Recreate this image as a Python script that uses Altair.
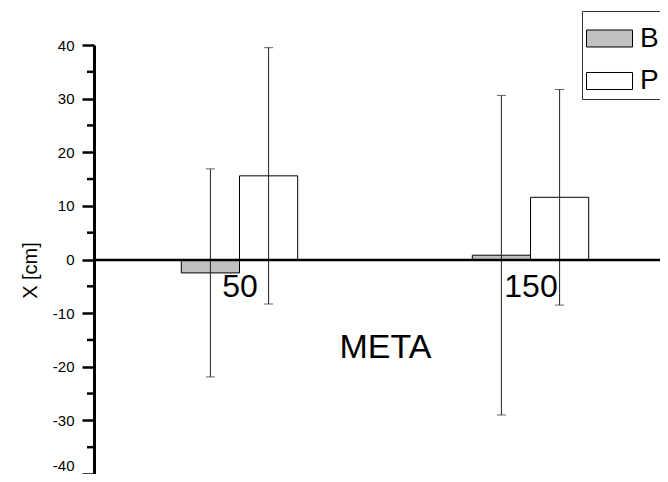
import altair as alt
import pandas as pd

# ---- data ----
categories = [50, 150]
series = ["B", "P"]
mean_B = [-2.5, 0.8]
err_B = [19.4, 29.8]
mean_P = [15.6, 11.6]
err_P = [23.9, 20.1]
y_ticks = [-40, -30, -20, -10, 0, 10, 20, 30, 40]
y_minor = [-35, -25, -15, -5, 5, 15, 25, 35]
fill_colors = ["#c0c0c0", "#ffffff"]

BAR_W = 20  # bar width in x units
rows = []
for s, means, errs, off in [("B", mean_B, err_B, -1), ("P", mean_P, err_P, 0)]:
    for c, m, e in zip(categories, means, errs):
        x0 = c + off * BAR_W
        rows.append(dict(series=s, cat=c, x0=x0, x1=x0 + BAR_W, xc=x0 + BAR_W / 2,
                         mean=m, lo=m - e, hi=m + e))
df = pd.DataFrame(rows)
minor_df = pd.DataFrame({"v": y_minor})

FONT = "Liberation Sans"
W, H = 566, 429
xscale = alt.Scale(domain=[0, W / 2.91], nice=False, zero=False)
yscale = alt.Scale(domain=[-40, 40], nice=False, zero=False)

x_axis = alt.Axis(values=categories, offset=-H / 2, ticks=False, tickSize=0,
                  domainColor="black", domainWidth=2.5, grid=False,
                  labelFontSize=32, labelPadding=12, labelFont=FONT, labelColor="black",
                  labelFlush=False, labelOverlap=False,
                  title="META", titleFontSize=34, titleFont=FONT, titleFontWeight="normal",
                  titleColor="black", titleX=291, titleY=98, titleBaseline="alphabetic",
                  titleAlign="center", zindex=1)
y_axis = alt.Axis(values=y_ticks, tickSize=12, tickWidth=2.5, tickColor="black",
                  domainColor="black", domainWidth=3, grid=False,
                  labelExpr="'' + datum.value",
                  labelFontSize=15, labelPadding=8, labelFont=FONT, labelColor="black",
                  labelOffset={"condition": {"test": "datum.value == -40", "value": -9}, "value": 0},
                  title="X [cm]", titleFontSize=20, titleFont=FONT, titleFontWeight="normal",
                  titleColor="black", titleAngle=270, titleX=-64, titleY=225,
                  titleBaseline="middle", titleAlign="center", zindex=1)

legend = alt.Legend(title=None, orient="none", legendX=488, legendY=-34,
                    symbolType="M-1,-0.37L1,-0.37L1,0.37L-1,0.37Z", symbolSize=2116,
                    symbolStrokeColor="black", symbolStrokeWidth=1,
                    labelFontSize=28, labelFont=FONT, labelColor="black", labelOffset=7,
                    rowPadding=4.5, padding=4, strokeColor="#333", fillColor="white")

bars = alt.Chart(df).mark_rect(stroke="black", strokeWidth=1).encode(
    x=alt.X("x0:Q", scale=xscale, axis=x_axis),
    x2="x1",
    y=alt.Y("mean:Q", scale=yscale, axis=y_axis),
    y2=alt.datum(0),
    fill=alt.Fill("series:N", scale=alt.Scale(domain=series, range=fill_colors), legend=legend),
)

err = alt.Chart(df).mark_rule(color="#222", strokeWidth=1).encode(
    x=alt.X("xc:Q", scale=xscale, title="META"),
    y=alt.Y("lo:Q", scale=yscale, title="X [cm]"),
    y2="hi",
)

caps = alt.Chart(df).transform_fold(["lo", "hi"], as_=["end", "val"]).mark_tick(
    orient="horizontal", size=9, thickness=1, color="#222"
).encode(
    x=alt.X("xc:Q", scale=xscale, title="META"),
    y=alt.Y("val:Q", scale=yscale, title="X [cm]"),
)

minor = alt.Chart(minor_df).mark_rule(color="black", strokeWidth=2.5).encode(
    x=alt.value(-7), x2=alt.value(0),
    y=alt.Y("v:Q", scale=yscale, title="X [cm]"),
)

chart = alt.layer(bars, err, caps, minor).properties(
    width=W, height=H,
    padding={"left": 86, "top": 37, "right": 0, "bottom": 0},
    autosize=alt.AutoSizeParams(type="none"),
    background="white",
).configure_view(stroke=None)

chart.save("out.html", embed_options={"renderer": "svg", "actions": False})
